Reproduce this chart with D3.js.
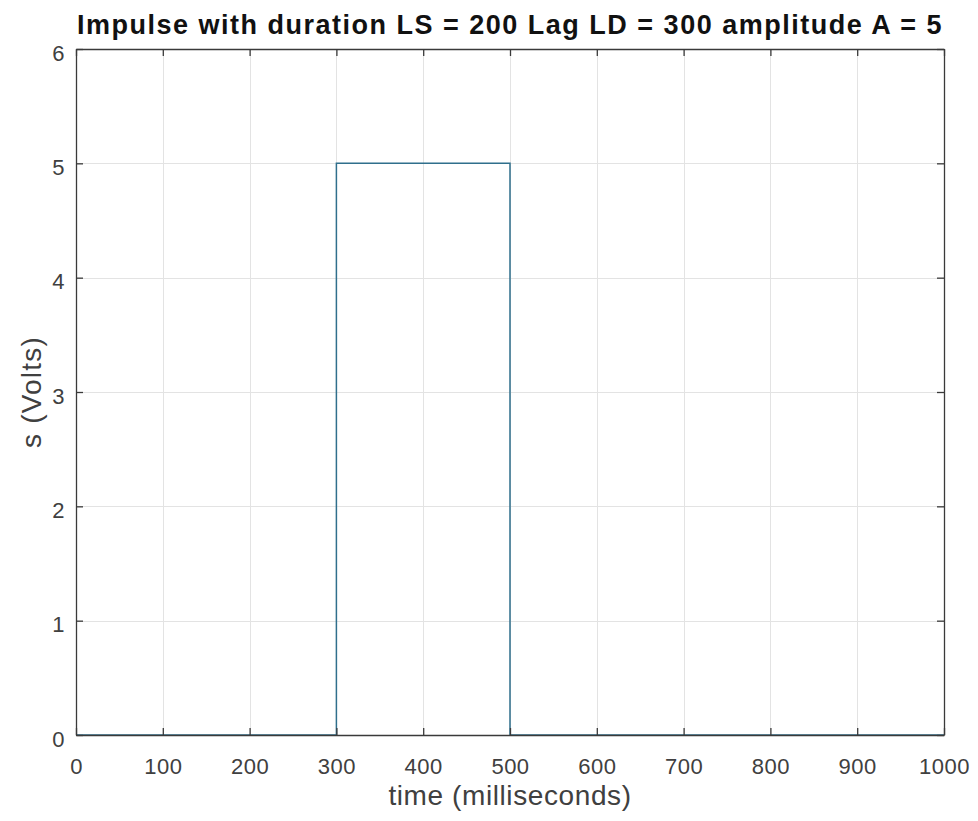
<!DOCTYPE html>
<html><head><meta charset="utf-8">
<script src="https://cdn.jsdelivr.net/npm/d3@7"></script>
<style>body{margin:0;background:#fff}svg{display:block}</style>
</head><body>
<svg id="c" width="978" height="821"></svg>
<script>
const titleText = "Impulse with duration LS = 200 Lag LD = 300 amplitude A = 5";
const xLabel = "time (milliseconds)";
const yLabel = "s (Volts)";
const xTicks = [0,100,200,300,400,500,600,700,800,900,1000];
const yTicks = [0,1,2,3,4,5,6];
// impulse breakpoints
const timeMs = [0, 300, 300, 500, 500, 1000];
const volts  = [0, 0,   5,   5,   0,   0];

const svg = d3.select("#c");
const m = {l:76, r:944, t:49, b:735};
const x = d3.scaleLinear().domain([0,1000]).range([m.l, m.r]);
const y = d3.scaleLinear().domain([0,6]).range([m.b, m.t]);
const font = "'Liberation Sans', Arial, Helvetica, sans-serif";

// grid
svg.append("g").selectAll("line").data(xTicks).join("line")
  .attr("x1", d=>Math.round(x(d))+0.5).attr("x2", d=>Math.round(x(d))+0.5).attr("y1", m.t).attr("y2", m.b)
  .attr("stroke", "#e3e3e3").attr("stroke-width", 1);
svg.append("g").selectAll("line").data(yTicks).join("line")
  .attr("y1", d=>Math.round(y(d))+0.5).attr("y2", d=>Math.round(y(d))+0.5).attr("x1", m.l).attr("x2", m.r)
  .attr("stroke", "#e3e3e3").attr("stroke-width", 1);

// data line
const pts = timeMs.map((t,i)=>[t, volts[i]]);
svg.append("path").datum(pts)
  .attr("d", d3.line().x(d=>x(d[0])).y(d=>y(d[1])))
  .attr("fill","none").attr("stroke","#2f6f8c").attr("stroke-width",1.5);

// axes (ticks inward, box)
const tc = "#3a3a3a";
const fmt = d3.format("d");
const axB = d3.axisBottom(x).tickValues(xTicks).tickFormat(fmt).tickSizeInner(-7).tickSizeOuter(0).tickPadding(23);
const axT = d3.axisTop(x).tickValues(xTicks).tickSizeInner(-7).tickSizeOuter(0).tickFormat("");
const axL = d3.axisLeft(y).tickValues(yTicks).tickFormat(fmt).tickSizeInner(-7).tickSizeOuter(0).tickPadding(11);
const axR = d3.axisRight(y).tickValues(yTicks).tickSizeInner(-7).tickSizeOuter(0).tickFormat("");
function style(g){
  g.selectAll("path.domain").attr("stroke", tc).attr("stroke-width", 1.3);
  g.selectAll(".tick line").attr("stroke", tc).attr("stroke-width", 1.3);
  g.selectAll(".tick text").attr("fill", "#404040").attr("font-family", font)
    .attr("font-size", 22).attr("letter-spacing", 0.5);
}
svg.append("g").attr("transform",`translate(0,${m.b})`).call(axB).call(style);
svg.append("g").attr("transform",`translate(0,${m.t})`).call(axT).call(style);
svg.append("g").attr("transform",`translate(${m.l},0)`).call(axL).call(style)
  .selectAll(".tick text").attr("dy","0.5em");
svg.append("g").attr("transform",`translate(${m.r},0)`).call(axR).call(style);

// title
svg.append("text").attr("x", (m.l+m.r)/2).attr("y", 34).attr("text-anchor","middle")
  .attr("font-family", font).attr("font-weight","bold").attr("font-size", 27)
  .attr("letter-spacing", 1.5).attr("fill","#111")
  .text(titleText);
// x label
svg.append("text").attr("x", (m.l+m.r)/2).attr("y", 805).attr("text-anchor","middle")
  .attr("font-family", font).attr("font-size", 28).attr("letter-spacing", 0.6)
  .attr("fill","#404040").text(xLabel);
// y label
svg.append("text").attr("transform", `translate(41,${(m.t+m.b)/2}) rotate(-90)`).attr("text-anchor","middle")
  .attr("font-family", font).attr("font-size", 28).attr("letter-spacing", 1.2)
  .attr("fill","#404040").text(yLabel);
</script>
</body></html>
